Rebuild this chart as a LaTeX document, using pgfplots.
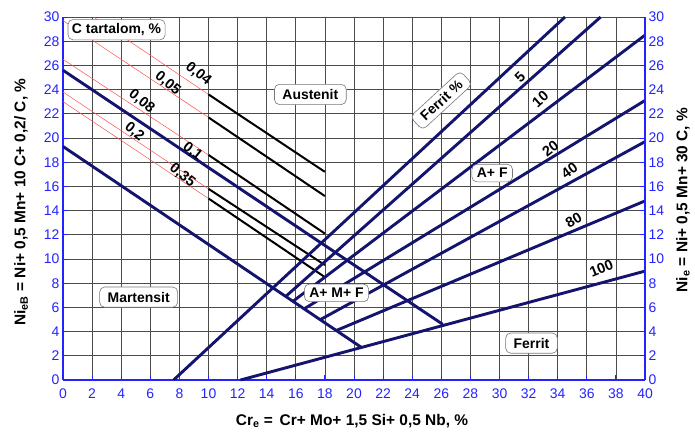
\documentclass[border=0pt]{standalone}
\usepackage{pgfplots}
\pgfplotsset{compat=1.18}
\usepackage{fontspec}
\setmainfont{Liberation Sans}
\definecolor{navy}{RGB}{20,20,110}
\definecolor{tickblue}{RGB}{35,35,255}
\definecolor{gridgray}{RGB}{75,75,75}
\definecolor{cred}{RGB}{255,80,80}
\definecolor{boxgray}{RGB}{120,120,120}
\tikzset{
  lbox/.style={draw=boxgray, fill=white, rounded corners=5bp, line width=0.6bp,
     inner xsep=8bp, inner ysep=5bp, font=\fontsize{14}{14}\selectfont\bfseries},
  llab/.style={font=\fontsize{14.5}{14.5}\selectfont\bfseries, inner sep=0pt},
}
\begin{document}
\begin{tikzpicture}[x=1bp,y=1bp]
\begin{axis}[
  at={(0,0)}, anchor=south west,
  scale only axis, width=582bp, height=363bp,
  xmin=0, xmax=40, ymin=0, ymax=30,
  xtick distance=2, ytick distance=2,
  grid=major, major grid style={gridgray, line width=0.7bp},
  axis x line*=bottom, axis y line*=left,
  axis line style={tickblue, line width=1.3bp, -},
  tick style={tickblue, line width=1bp},
  tick align=inside, major tick length=5bp,
  /pgf/number format/assume math mode=true,
  ticklabel style={font=\fontsize{14}{14}\selectfont, text=tickblue},
  xticklabel style={yshift=-5bp},
  clip=false,
]
% red thin carbon lines
\addplot[cred, line width=0.5bp] coordinates {(2.1,30) (10,23.6)};
\addplot[cred, line width=0.5bp] coordinates {(0,29.7) (10,21.7)};
\addplot[cred, line width=0.5bp] coordinates {(0,26.5) (10,18.6)};
\addplot[cred, line width=0.5bp] coordinates {(0,23.8) (10,15.8)};
\addplot[cred, line width=0.5bp] coordinates {(0,23.0) (10,15.0)};
% black carbon lines
\addplot[black, line width=2bp] coordinates {(10,23.6) (18,17.2)};
\addplot[black, line width=2bp] coordinates {(10,21.7) (18,15.2)};
\addplot[black, line width=2bp] coordinates {(10,18.6) (18,12.1)};
\addplot[black, line width=2bp] coordinates {(10,15.8) (18,9.5)};
\addplot[black, line width=2bp] coordinates {(10,15.0) (18,8.5)};
% navy boundary lines
\addplot[navy, line width=2.9bp] coordinates {(0,25.6) (26.1,4.6)};
\addplot[navy, line width=2.9bp] coordinates {(0,19.3) (20.5,2.7)};
\addplot[navy, line width=2.9bp] coordinates {(7.6,0) (34.5,30)};
\addplot[navy, line width=2.9bp] coordinates {(15.3,6.9) (36.95,30)};
\addplot[navy, line width=2.9bp] coordinates {(15.8,6.5) (40,28.5)};
\addplot[navy, line width=2.9bp] coordinates {(16.6,5.9) (40,23.1)};
\addplot[navy, line width=2.9bp] coordinates {(17.7,5.0) (40,19.7)};
\addplot[navy, line width=2.9bp] coordinates {(18.8,4.1) (40,14.8)};
\addplot[navy, line width=2.9bp] coordinates {(12.2,0) (40,9.0)};
% carbon labels
\node[llab, rotate=-39] at (axis cs:9.3,25.3) {0,04};
\node[llab, rotate=-39] at (axis cs:7.2,24.5) {0,05};
\node[llab, rotate=-39] at (axis cs:5.4,23.0) {0,08};
\node[llab, rotate=-39] at (axis cs:8.9,18.9) {0,1};
\node[llab, rotate=-39] at (axis cs:4.9,20.5) {0,2};
\node[llab, rotate=-39] at (axis cs:8.2,16.9) {0,35};
% ferrite labels
\node[llab, rotate=45] at (axis cs:31.4,25.0) {5};
\node[llab, rotate=42] at (axis cs:32.8,23.2) {10};
\node[llab, rotate=38] at (axis cs:33.5,19.1) {20};
\node[llab, rotate=36] at (axis cs:34.8,17.3) {40};
\node[llab, rotate=30] at (axis cs:35.1,13.2) {80};
\node[llab, rotate=22] at (axis cs:37,9.2) {100};
% region boxes
\node[lbox, inner xsep=4bp, inner ysep=4bp] at (axis cs:3.68,28.95) {C tartalom, \%};
\node[lbox] at (axis cs:17.0,23.6) {Austenit};
\node[lbox] at (axis cs:5.2,6.85) {Martensit};
\node[lbox, inner xsep=5bp, inner ysep=4bp] at (axis cs:18.8,7.2) {A+ M+ F};
\node[lbox, inner xsep=5bp, inner ysep=4bp] at (axis cs:29.5,17.1) {A+ F};
\node[lbox] at (axis cs:32.2,3.05) {Ferrit};
\node[lbox, rotate=42.6, inner ysep=4bp] at (axis cs:26.0,23.1) {Ferrit \%};
\end{axis}
\begin{axis}[
  at={(0,0)}, anchor=south west,
  scale only axis, width=582bp, height=363bp,
  xmin=0, xmax=40, ymin=0, ymax=30,
  ytick distance=2,
  axis x line=none, axis y line*=right,
  axis line style={tickblue, line width=1.3bp, -},
  tick style={tickblue, line width=1bp},
  tick align=inside, major tick length=5bp,
  /pgf/number format/assume math mode=true,
  ticklabel style={font=\fontsize{14}{14}\selectfont, text=tickblue},
]
\addplot[draw=none] coordinates {(0,0) (40,30)};
\end{axis}
\node[font=\fontsize{15.5}{15.5}\selectfont\bfseries] at (289,-41) {Cr\textsubscript{e} =\, Cr+ Mo+ 1,5 Si+ 0,5 Nb, \%};
\node[rotate=90, font=\fontsize{15.5}{15.5}\selectfont\bfseries] at (-42,178) {Ni\textsubscript{eB} = Ni+ 0,5 Mn+ 10 C+ 0,2/ C, \%};
\node[rotate=90, font=\fontsize{15.5}{15.5}\selectfont\bfseries] at (620,180) {Ni\textsubscript{e} = Ni+ 0,5 Mn+ 30 C, \%};
\useasboundingbox (-63,-51) rectangle (632,380);
\end{tikzpicture}
\end{document}
